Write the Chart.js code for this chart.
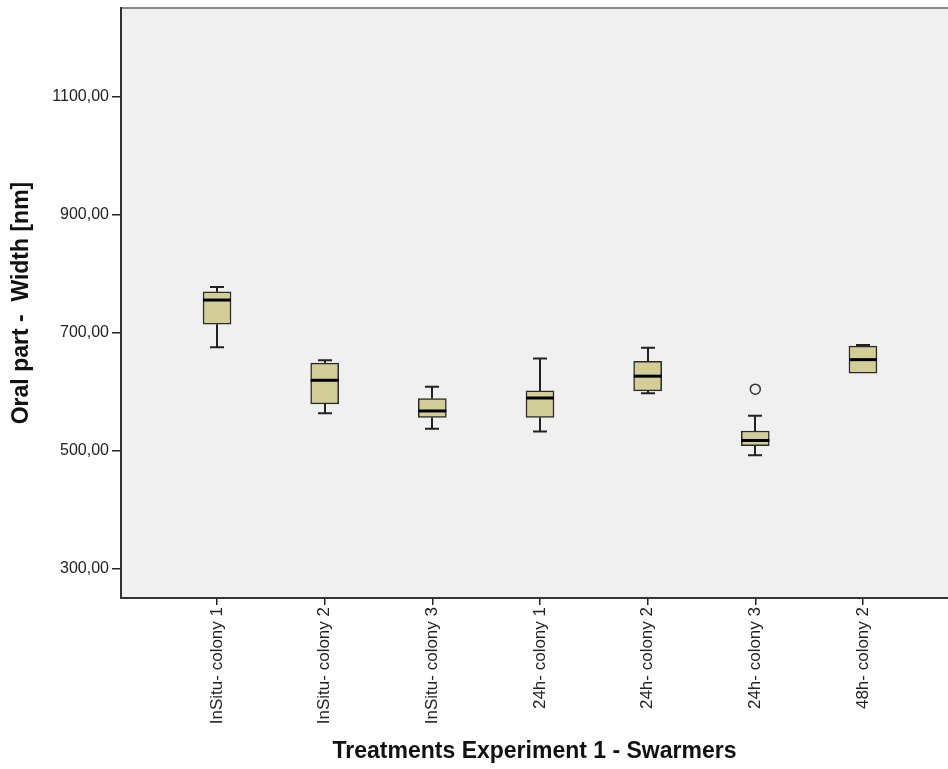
<!DOCTYPE html>
<html>
<head>
<meta charset="utf-8">
<script src="https://cdn.jsdelivr.net/npm/chart.js@4/dist/chart.umd.min.js"></script>
<style>
  body { margin: 0; background: #fff; }
  canvas { display: block; }
</style>
</head>
<body>
<canvas id="boxChart" width="948" height="769"></canvas>
<script>
// kategori perlakuan
const categories = ['InSitu- colony 1', 'InSitu- colony 2', 'InSitu- colony 3', '24h- colony 1', '24h- colony 2', '24h- colony 3', '48h- colony 2'];

// statistik box plot
const minVals    = [676, 564, 538, 533, 598, 493, 632];
const q1Vals     = [715, 580, 557, 557, 602, 509, 632];
const medianVals = [756, 620, 568, 590, 627, 518, 655];
const q3Vals     = [770, 649, 589, 602, 652, 534, 678];
const maxVals    = [778, 654, 609, 657, 675, 560, 680];

// outlier (nomor kategori, nilai)
const outlierCats = [6];
const outlierVals = [605];

// label sumbu Y
const yTicks = [300, 500, 700, 900, 1100];

const fontFamily = '"Liberation Sans", Arial, sans-serif';
const lineColor = '#222';

const boxData = categories.map((c, i) => ({ x: i + 1, y: [q1Vals[i], q3Vals[i]] }));
const outlierData = outlierCats.map((c, i) => ({ x: c, y: outlierVals[i] }));

// latar area plot + garis atas
const plotBackground = {
    id: 'plotBackground',
    beforeDraw(chart) {
        const { ctx, chartArea: a } = chart;
        ctx.save();
        ctx.fillStyle = '#f0f0f0';
        ctx.fillRect(a.left, a.top, a.right - a.left, a.bottom - a.top);
        ctx.strokeStyle = '#8a8a8a';
        ctx.lineWidth = 2;
        ctx.beginPath();
        ctx.moveTo(a.left, a.top);
        ctx.lineTo(a.right, a.top);
        ctx.stroke();
        ctx.restore();
    }
};

// whisker, cap dan median
const boxParts = {
    id: 'boxParts',
    beforeDatasetsDraw(chart) {
        const { ctx, scales: { x, y } } = chart;
        ctx.save();
        ctx.strokeStyle = lineColor;
        ctx.lineWidth = 2;
        categories.forEach((c, i) => {
            const px = Math.round(x.getPixelForValue(i + 1));
            const seg = (from, to) => {
                if (from === to) return;
                const y1 = y.getPixelForValue(from);
                const y2 = y.getPixelForValue(to);
                ctx.beginPath();
                ctx.moveTo(px, y1);
                ctx.lineTo(px, y2);
                ctx.moveTo(px - 7, y2);
                ctx.lineTo(px + 7, y2);
                ctx.stroke();
            };
            seg(q3Vals[i], maxVals[i]);
            seg(q1Vals[i], minVals[i]);
        });
        ctx.restore();
    },
    afterDatasetsDraw(chart) {
        const { ctx, scales: { x, y } } = chart;
        ctx.save();
        ctx.strokeStyle = '#000';
        ctx.lineWidth = 3;
        categories.forEach((c, i) => {
            const px = x.getPixelForValue(i + 1);
            const py = y.getPixelForValue(medianVals[i]);
            ctx.beginPath();
            ctx.moveTo(px - 14, py);
            ctx.lineTo(px + 14, py);
            ctx.stroke();
        });
        ctx.restore();
    }
};

new Chart(document.getElementById('boxChart'), {
    type: 'bar',
    data: {
        datasets: [{
            type: 'bar',
            data: boxData,
            backgroundColor: '#d3ce97',
            borderColor: '#2b2b2b',
            borderWidth: 1.5,
            borderSkipped: false,
            barThickness: 28
        }, {
            type: 'scatter',
            data: outlierData,
            pointRadius: 5,
            pointBorderWidth: 1.5,
            borderColor: '#333',
            backgroundColor: 'rgba(0,0,0,0)'
        }]
    },
    options: {
        responsive: false,
        animation: false,
        layout: { autoPadding: false, padding: { top: 8, right: 0, bottom: 0, left: 0 } },
        plugins: {
            legend: { display: false },
            tooltip: { enabled: false }
        },
        scales: {
            x: {
                type: 'linear',
                offset: false,
                min: 0.108,
                max: 7.79,
                afterBuildTicks: s => { s.ticks = categories.map((c, i) => ({ value: i + 1 })); },
                afterFit: s => { s.height = 171; s.paddingLeft = 0; s.paddingRight = 0; },
                ticks: {
                    autoSkip: false,
                    minRotation: 90,
                    maxRotation: 90,
                    padding: 2,
                    color: '#222',
                    font: { family: fontFamily, size: 17 },
                    callback: v => categories[v - 1]
                },
                grid: { offset: false, drawOnChartArea: false, drawTicks: true, tickLength: 7, color: lineColor, lineWidth: 1.5 },
                border: { display: true, color: '#333', width: 2 },
                title: {
                    display: true,
                    text: 'Treatments Experiment 1 - Swarmers',
                    color: '#111',
                    font: { family: fontFamily, size: 23, weight: 'bold' },
                    padding: { top: 0, bottom: 4 }
                }
            },
            y: {
                min: 251,
                max: 1251,
                afterBuildTicks: s => { s.ticks = yTicks.map(v => ({ value: v })); },
                afterFit: s => { s.width = 121; s.paddingTop = 0; s.paddingBottom = 0; },
                ticks: {
                    padding: 3,
                    color: '#222',
                    font: { family: fontFamily, size: 16 },
                    callback: v => v.toFixed(2).replace('.', ',')
                },
                grid: { drawOnChartArea: false, drawTicks: true, tickLength: 9, color: lineColor, lineWidth: 1.5 },
                border: { display: true, color: '#333', width: 2 },
                title: {
                    display: true,
                    text: 'Oral part -  Width [nm]',
                    color: '#111',
                    font: { family: fontFamily, size: 23, weight: 'bold' },
                    padding: { top: 8, bottom: 0 }
                }
            }
        }
    },
    plugins: [plotBackground, boxParts]
});
</script>
</body>
</html>
